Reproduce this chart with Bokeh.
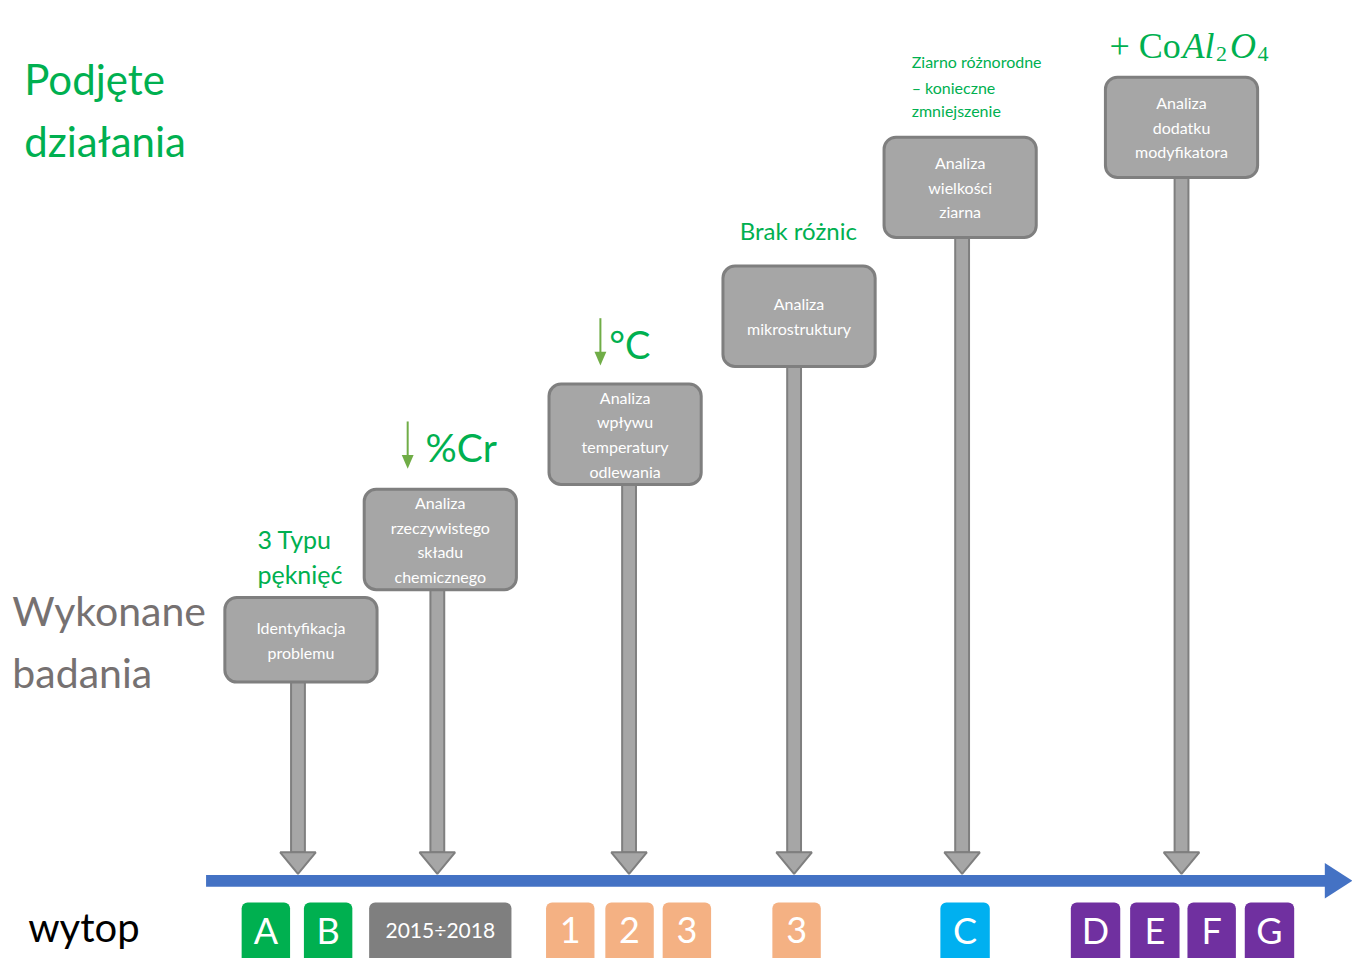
from bokeh.plotting import figure
from bokeh.models import Range1d
from bokeh.core.properties import value
from bokeh.embed import file_html
from bokeh.resources import INLINE

# ---- data ----
step_lines = [
    ["Identyfikacja", "problemu"],
    ["Analiza", "rzeczywistego", "składu", "chemicznego"],
    ["Analiza", "wpływu", "temperatury", "odlewania"],
    ["Analiza", "mikrostruktury"],
    ["Analiza", "wielkości", "ziarna"],
    ["Analiza", "dodatku", "modyfikatora"],
]
step_x = [304, 445, 632, 808, 971, 1195]       # position on the time axis
arrow_x = [301, 442, 636, 803, 973, 1195]
box_top = [607, 497, 390, 270, 139, 78]
box_bottom = [693, 599, 492, 372, 241, 180]

chip_labels = ["A", "B", "2015÷2018", "1", "2", "3", "3", "C", "D", "E", "F", "G"]
chip_left = [244, 307, 373, 552, 612, 670, 781, 951, 1083, 1143, 1201, 1259]
chip_right = [293, 356, 517, 601, 661, 719, 830, 1001, 1133, 1193, 1250, 1309]
chip_colors = ["#00B050", "#00B050", "#7F7F7F", "#F4B183", "#F4B183", "#F4B183",
               "#F4B183", "#00B0F0", "#7030A0", "#7030A0", "#7030A0", "#7030A0"]
chip_sizes = ["36px", "36px", "21px"] + ["36px"] * 9

GREEN = "#00B050"
FONT = value("Lato")

W, H = 1352, 958
p = figure(width=W, height=H, x_range=Range1d(0, 1368), y_range=Range1d(974, 0),
           output_backend="svg", toolbar_location=None, min_border=0)
p.axis.visible = False
p.grid.visible = False
p.outline_line_color = None
p.background_fill_color = "white"

# ---- timeline ----
TL_Y = 895
p.quad(left=[208], right=[1342], top=[TL_Y - 6], bottom=[TL_Y + 6],
       fill_color="#4472C4", line_color=None)
p.patch(x=[1340, 1368, 1340], y=[TL_Y - 18, TL_Y, TL_Y + 18],
        fill_color="#4472C4", line_color=None)

# ---- gray arrows ----
HEAD_BASE = 866
HEAD_TIP = 888
p.quad(left=[x - 7 for x in arrow_x], right=[x + 7 for x in arrow_x],
       top=box_bottom, bottom=[HEAD_BASE] * len(arrow_x),
       fill_color="#A6A6A6", line_color="#7F7F7F", line_width=2)
p.patches(xs=[[x - 18, x + 18, x] for x in arrow_x],
          ys=[[HEAD_BASE, HEAD_BASE, HEAD_TIP] for _ in arrow_x],
          fill_color="#A6A6A6", line_color="#7F7F7F", line_width=2)

# ---- boxes ----
p.quad(left=[x - 77 for x in step_x], right=[x + 77 for x in step_x],
       top=box_top, bottom=box_bottom, border_radius=12,
       fill_color="#A6A6A6", line_color="#7F7F7F", line_width=3)

tx, ty, tt = [], [], []
for x, t, b, lines in zip(step_x, box_top, box_bottom, step_lines):
    c = (t + b) / 2
    n = len(lines)
    for i, s in enumerate(lines):
        tx.append(x)
        ty.append(c + (i - (n - 1) / 2) * 25)
        tt.append(s)
p.text(x=tx, y=ty, text=tt, text_color="white", text_font=FONT,
       text_font_size="16px", text_align="center", text_baseline="middle")

# ---- chips ----
p.quad(left=chip_left, right=chip_right, top=[917] * len(chip_left),
       bottom=[990] * len(chip_left), border_radius=6,
       fill_color=chip_colors, line_color=None)
p.text(x=[(l + r) / 2 for l, r in zip(chip_left, chip_right)], y=[945] * len(chip_left),
       text=chip_labels, text_color="white", text_font=FONT,
       text_font_size=chip_sizes, text_align="center", text_baseline="middle")

# ---- side labels ----
p.text(x=[24, 24], y=[80, 143], text=["Podjęte", "działania"], text_color=GREEN,
       text_font=FONT, text_font_size="42px", text_baseline="middle")
p.text(x=[12, 12], y=[620, 683], text=["Wykonane", "badania"], text_color="#767171",
       text_font=FONT, text_font_size="41px", text_baseline="middle")
p.text(x=[28], y=[942], text=["wytop"], text_color="black",
       text_font=FONT, text_font_size="40px", text_baseline="middle")

# ---- green annotations ----
p.text(x=[260, 260], y=[547, 583], text=["3 Typu", "pęknięć"], text_color=GREEN,
       text_font=FONT, text_font_size="25px", text_baseline="middle")
p.text(x=[430], y=[454], text=["%Cr"], text_color=GREEN,
       text_font=FONT, text_font_size="39px", text_baseline="middle")
p.text(x=[616], y=[349], text=["°C"], text_color=GREEN,
       text_font=FONT, text_font_size="38px", text_baseline="middle")
p.text(x=[748], y=[234], text=["Brak różnic"], text_color=GREEN,
       text_font=FONT, text_font_size="24px", text_baseline="middle")
p.text(x=[922, 922, 922], y=[62, 88, 112],
       text=["Ziarno różnorodne", "– konieczne", "zmniejszenie"], text_color=GREEN,
       text_font=FONT, text_font_size="16px", text_baseline="middle")

# small green down arrows
for ax, y0, y1 in [(412, 428, 476), (607, 323, 371)]:
    p.segment(x0=[ax], y0=[y0], x1=[ax], y1=[y1 - 12], line_color="#70AD47", line_width=2)
    p.patch(x=[ax - 6, ax + 6, ax], y=[y1 - 14, y1 - 14, y1],
            fill_color="#70AD47", line_color=None)

# + CoAl2O4
SERIF = value("Liberation Serif")
p.text(x=[1122], y=[46], text=["+ Co"], text_color=GREEN, text_font=SERIF,
       text_font_size="36px", text_baseline="alphabetic")
p.text(x=[1196], y=[46], text=["Al"], text_color=GREEN, text_font=SERIF,
       text_font_style="italic", text_font_size="36px", text_baseline="alphabetic")
p.text(x=[1230], y=[54], text=["2"], text_color=GREEN, text_font=SERIF,
       text_font_size="22px", text_baseline="alphabetic")
p.text(x=[1244], y=[46], text=["O"], text_color=GREEN, text_font=SERIF,
       text_font_style="italic", text_font_size="36px", text_baseline="alphabetic")
p.text(x=[1272], y=[54], text=["4"], text_color=GREEN, text_font=SERIF,
       text_font_size="22px", text_baseline="alphabetic")

open("out.html", "w").write(file_html(p, INLINE))
